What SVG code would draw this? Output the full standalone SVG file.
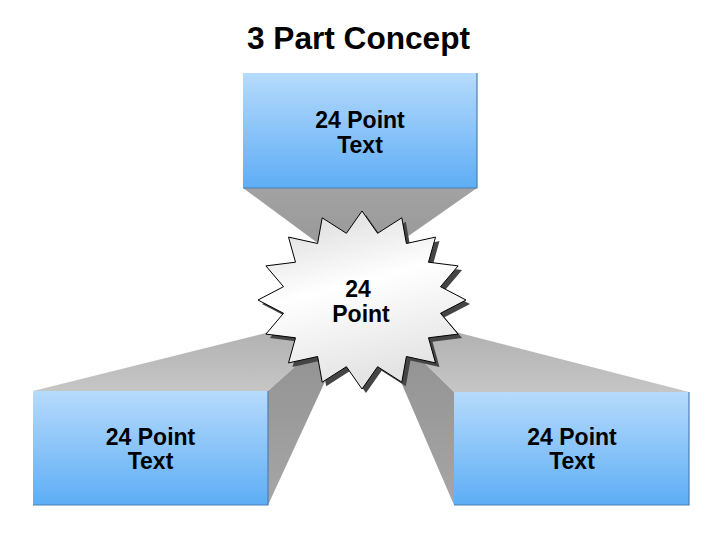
<svg xmlns="http://www.w3.org/2000/svg" xmlns:xlink="http://www.w3.org/1999/xlink" width="720" height="540" viewBox="0 0 720 540">
  <defs>
    <linearGradient id="boxGrad" x1="0" y1="0" x2="0" y2="1">
      <stop offset="0" stop-color="#b6dbfc"/>
      <stop offset="1" stop-color="#5eadf5"/>
    </linearGradient>
    <linearGradient id="starGrad" x1="0" y1="0" x2="0.3" y2="1">
      <stop offset="0" stop-color="#d6d6d6"/>
      <stop offset="0.5" stop-color="#ffffff"/>
      <stop offset="1" stop-color="#e4e4e4"/>
    </linearGradient>
    <linearGradient id="topFaceL" x1="0" y1="1" x2="0" y2="0">
      <stop offset="0" stop-color="#c6c6c6"/>
      <stop offset="1" stop-color="#aaaaaa"/>
    </linearGradient>
    <linearGradient id="sideFace" x1="0" y1="1" x2="0" y2="0">
      <stop offset="0" stop-color="#a6a6a6"/>
      <stop offset="1" stop-color="#8e8e8e"/>
    </linearGradient>
    <linearGradient id="bottomFace" x1="0" y1="0" x2="0" y2="1">
      <stop offset="0" stop-color="#a2a2a2"/>
      <stop offset="1" stop-color="#959595"/>
    </linearGradient>
    <path id="star" d="M466,300 L440.5,313.3 L458.1,334.1 L428.5,337.8 L435.5,362.9 L406.4,356.5 L401.8,382.2 L377.6,366.7 L362,389 L346.4,366.7 L322.2,382.2 L317.6,356.5 L288.5,362.9 L295.5,337.8 L265.9,334.1 L283.5,313.3 L258,300 L283.5,286.7 L265.9,265.9 L295.5,262.2 L288.5,237.1 L317.6,243.5 L322.2,217.8 L346.4,233.3 L362,211 L377.6,233.3 L401.8,217.8 L406.4,243.5 L435.5,237.1 L428.5,262.2 L458.1,265.9 L440.5,286.7 Z"/>
  </defs>
  <style>
    .lbl { font-family: "Liberation Sans", Arial, sans-serif; font-weight: bold; font-size: 23px; fill: #000; text-anchor: middle; }
    .box { fill: url(#boxGrad); }
    .edge { stroke: #4d7fb5; stroke-width: 1.2; fill: none; }
  </style>
  <rect width="720" height="540" fill="#ffffff"/>

  <g id="title">
    <text x="358.5" y="49" font-family="Liberation Sans, Arial, sans-serif" font-weight="bold" font-size="31" text-anchor="middle" textLength="223" lengthAdjust="spacingAndGlyphs">3 Part Concept</text>
  </g>

  <g id="connectors">
    <polygon points="243,188 477,188 357,272" fill="url(#bottomFace)"/>
    <polygon points="33,391 268,391 358,310" fill="url(#topFaceL)"/>
    <polygon points="268,391 268,505 358,310" fill="url(#sideFace)"/>
    <polygon points="689,392 454,392 370,310" fill="url(#topFaceL)"/>
    <polygon points="454,392 454,505 370,310" fill="url(#sideFace)"/>
  </g>

  <g id="node-top">
    <rect class="box" x="243" y="73" width="234" height="115"/>
    <polyline class="edge" points="477,73 477,188 243,188"/>
    <text class="lbl" x="360" y="128">24 Point</text>
    <text class="lbl" x="360" y="153">Text</text>
  </g>

  <g id="node-left">
    <rect class="box" x="33" y="391" width="235" height="114"/>
    <polyline class="edge" points="268,391 268,505 33,505"/>
    <text class="lbl" x="150.5" y="444.5">24 Point</text>
    <text class="lbl" x="150.5" y="469">Text</text>
  </g>

  <g id="node-right">
    <rect class="box" x="454" y="392" width="235" height="113"/>
    <polyline class="edge" points="689,392 689,505 454,505"/>
    <text class="lbl" x="572" y="444.5">24 Point</text>
    <text class="lbl" x="572" y="469">Text</text>
  </g>

  <g id="node-center">
    <use xlink:href="#star" transform="translate(4,4)" fill="#454545"/>
    <use xlink:href="#star" fill="url(#starGrad)" stroke="#000" stroke-width="1"/>
    <text class="lbl" x="358" y="297">24</text>
    <text class="lbl" x="361" y="322">Point</text>
  </g>
</svg>
